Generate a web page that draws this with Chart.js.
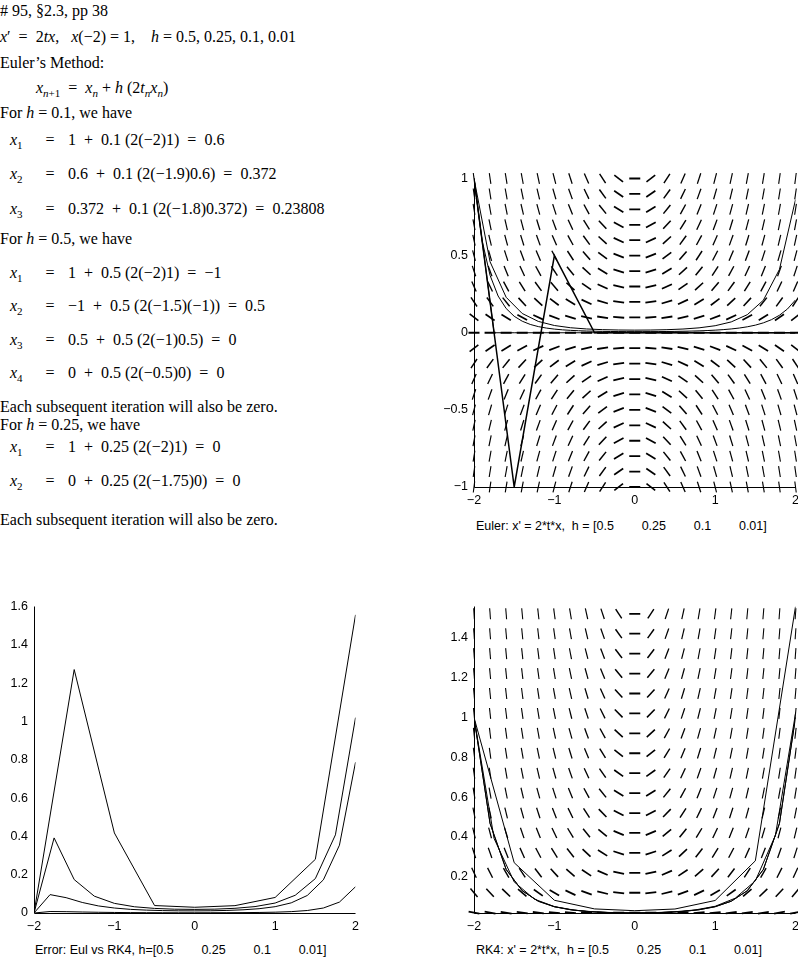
<!DOCTYPE html>
<html><head><meta charset="utf-8">
<script src="https://cdn.jsdelivr.net/npm/chart.js@4"></script>
<style>
body{margin:0;background:#fff;width:798px;height:961px;position:relative;overflow:hidden}
.t{position:absolute;font-family:"Liberation Serif",serif;font-size:16px;color:#000;white-space:nowrap;line-height:18px}
.t i{font-style:italic}
.cap{position:absolute;font-family:"Liberation Sans",Arial,sans-serif;font-size:12.5px;white-space:pre}
.box{position:absolute}
</style></head><body>
<div class="t" style="left:0;top:2px">#&nbsp;95, §2.3, pp 38</div>
<div class="t" style="left:0;top:28px"><i>x</i>′ &nbsp;= &nbsp;2<i>tx</i>, &nbsp;&nbsp;<i>x</i>(−2) = 1, &nbsp;&nbsp;&nbsp;<i>h</i> = 0.5, 0.25, 0.1, 0.01</div>
<div class="t" style="left:0;top:54px">Euler’s Method:</div>
<div class="t" style="left:36px;top:79px"><i>x</i><sub style="font-size:11px"><i>n</i>+1</sub> &nbsp;= &nbsp;<i>x<sub style="font-size:11px">n</sub></i> + <i>h</i> (2<i>t<sub style="font-size:11px">n</sub>x<sub style="font-size:11px">n</sub></i>)</div>
<div class="t" style="left:0;top:104px">For <i>h</i> = 0.1, we have</div>
<div id="txt"></div>
<div class="box" style="left:440px;top:165px;width:365px;height:346px"><canvas id="c1"></canvas></div>
<div class="box" style="left:0px;top:593px;width:365px;height:344px"><canvas id="c2"></canvas></div>
<div class="box" style="left:440px;top:593px;width:365px;height:344px"><canvas id="c3"></canvas></div>
<div class="cap" style="left:476px;top:519px">Euler: x' = 2*t*x,  h = [0.5        0.25        0.1        0.01]</div>
<div class="cap" style="left:35px;top:943px">Error: Eul vs RK4, h=[0.5        0.25        0.1        0.01]</div>
<div class="cap" style="left:476px;top:943px">RK4: x' = 2*t*x,  h = [0.5        0.25        0.1        0.01]</div>
<script>
const eqLines=[
 [131,'<i>x</i><sub>1</sub>','1 &nbsp;+ &nbsp;0.1 (2(−2)1) &nbsp;= &nbsp;0.6'],
 [165,'<i>x</i><sub>2</sub>','0.6 &nbsp;+ &nbsp;0.1 (2(−1.9)0.6) &nbsp;= &nbsp;0.372'],
 [200,'<i>x</i><sub>3</sub>','0.372 &nbsp;+ &nbsp;0.1 (2(−1.8)0.372) &nbsp;= &nbsp;0.23808'],
 [264,'<i>x</i><sub>1</sub>','1 &nbsp;+ &nbsp;0.5 (2(−2)1) &nbsp;= &nbsp;−1'],
 [297,'<i>x</i><sub>2</sub>','−1 &nbsp;+ &nbsp;0.5 (2(−1.5)(−1)) &nbsp;= &nbsp;0.5'],
 [331,'<i>x</i><sub>3</sub>','0.5 &nbsp;+ &nbsp;0.5 (2(−1)0.5) &nbsp;= &nbsp;0'],
 [364,'<i>x</i><sub>4</sub>','0 &nbsp;+ &nbsp;0.5 (2(−0.5)0) &nbsp;= &nbsp;0'],
 [438,'<i>x</i><sub>1</sub>','1 &nbsp;+ &nbsp;0.25 (2(−2)1) &nbsp;= &nbsp;0'],
 [472,'<i>x</i><sub>2</sub>','0 &nbsp;+ &nbsp;0.25 (2(−1.75)0) &nbsp;= &nbsp;0']];
const plain=[[230,'For <i>h</i> = 0.5, we have'],[398,'Each subsequent iteration will also be zero.'],[416,'For <i>h</i> = 0.25, we have'],[511,'Each subsequent iteration will also be zero.']];
let h='';
eqLines.forEach(([y,a,b])=>{h+=`<div class="t" style="left:10px;top:${y}px"><span style="display:inline-block;width:22px">${a.replace('<sub>','<sub style="font-size:11px">')}</span><span style="display:inline-block;width:36px;text-align:center">=</span>${b}</div>`;});
plain.forEach(([y,s])=>{h+=`<div class="t" style="left:0;top:${y}px">${s}</div>`;});
document.getElementById('txt').innerHTML=h;

// ---- data ----
const tE05=[-2,-1.5,-1,-0.5,0,0.5,1,1.5,2];
const xE05=[1,-1,0.5,0,0,0,0,0,0];
const tE025=[-2,-1.75,-1.5,-1.25,-1,-0.75,-0.5,-0.25,0,0.25,0.5,0.75,1,1.25,1.5,1.75,2];
const xE025=[1,0,0,0,0,0,0,0,0,0,0,0,0,0,0,0,0];
const tE01=[-2,-1.9,-1.8,-1.7,-1.6,-1.5,-1.4,-1.3,-1.2,-1.1,-1,-0.9,-0.8,-0.7,-0.6,-0.5,-0.4,-0.3,-0.2,-0.1,0,0.1,0.2,0.3,0.4,0.5,0.6,0.7,0.8,0.9,1,1.1,1.2,1.3,1.4,1.5,1.6,1.7,1.8,1.9,2];
const xE01=[1,0.6,0.372,0.23808,0.15713,0.10685,0.0748,0.05385,0.03985,0.03029,0.02362,0.0189,0.0155,0.01302,0.01119,0.00985,0.00887,0.00816,0.00767,0.00736,0.00721,0.00721,0.00736,0.00765,0.00811,0.00876,0.00964,0.0108,0.01231,0.01428,0.01685,0.02022,0.02467,0.03059,0.03854,0.04933,0.06413,0.08465,0.11343,0.15427,0.21289];
const t02=[-2,-1.8,-1.6,-1.4,-1.2,-1,-0.8,-0.6,-0.4,-0.2,0,0.2,0.4,0.6,0.8,1,1.2,1.4,1.6,1.8,2];
const xE001=[1,0.460,0.230,0.1248,0.0735,0.0470,0.0326,0.0246,0.0201,0.0178,0.0170,0.0177,0.0199,0.0242,0.0319,0.0455,0.0702,0.1170,0.2108,0.4107,0.863];
const xR05=[1,0.2708,0.08217,0.03884,0.02989,0.03837,0.08109,0.2801,1.5566];
const xR025=[1,0.392,0.1745,0.0880,0.0503,0.0325,0.0239,0.0199,0.0188,0.0201,0.0245,0.0335,0.0520,0.0925,0.1795,0.408,1.02];
const xR01=[1,0.4676,0.2368,0.1300,0.0773,0.0498,0.0347,0.0262,0.0215,0.0191,0.0183,0.0191,0.0215,0.0262,0.0347,0.0498,0.0773,0.1300,0.2369,0.4677,1.0];
const xR001=[1,0.4677,0.2369,0.1300,0.0773,0.0498,0.0347,0.0263,0.0215,0.0191,0.0183,0.0191,0.0215,0.0263,0.0347,0.0498,0.0773,0.1300,0.2369,0.4677,1.0];
const err05=[0,1.2708,0.4178,0.03884,0.02989,0.03837,0.08109,0.2801,1.5566];
const err025=[0,0.392,0.1745,0.0880,0.0503,0.0325,0.0239,0.0199,0.0188,0.0201,0.0245,0.0335,0.0520,0.0925,0.1795,0.408,1.02];
const err01=[0,0.096,0.080,0.055,0.037,0.026,0.019,0.015,0.0126,0.0114,0.0111,0.0117,0.0134,0.0167,0.0224,0.033,0.053,0.0915,0.173,0.354,0.787];
const err001=[0,0.0077,0.0069,0.0052,0.0038,0.0028,0.0021,0.0017,0.0014,0.0013,0.0013,0.0014,0.0016,0.0021,0.0028,0.0043,0.0071,0.013,0.026,0.057,0.137];
const fieldT=[-2,-1.8,-1.6,-1.4,-1.2,-1,-0.8,-0.6,-0.4,-0.2,0,0.2,0.4,0.6,0.8,1,1.2,1.4,1.6,1.8,2];
const fieldX1=[-1,-0.9,-0.8,-0.7,-0.6,-0.5,-0.4,-0.3,-0.2,-0.1,0,0.1,0.2,0.3,0.4,0.5,0.6,0.7,0.8,0.9,1];
const fieldX3=[0.02,0.12,0.22,0.32,0.42,0.52,0.62,0.72,0.82,0.92,1.02,1.12,1.22,1.32,1.42,1.52];
const xTicks=[-2,-1,0,1,2];

const pts=(ts,xs)=>ts.map((t,i)=>({x:t,y:xs[i]}));
const ds=(ts,xs,w)=>({data:pts(ts,xs),borderColor:'#000',borderWidth:w||1,pointRadius:0,fill:false,tension:0});
const fieldPlugin={id:'field',beforeDatasetsDraw(ch){
  const fx=ch.options.plugins.field; if(!fx||!fx.xs) return;
  const c=ch.ctx,X=ch.scales.x,Y=ch.scales.y,ar=ch.chartArea;
  c.save();c.beginPath();c.rect(ar.left-6,ar.top-6,ar.right-ar.left+12,ar.bottom-ar.top+12);c.clip();
  c.strokeStyle='#000';
  const sx=X.getPixelForValue(1)-X.getPixelForValue(0), sy=Y.getPixelForValue(1)-Y.getPixelForValue(0);
  fieldT.forEach(t=>fx.xs.forEach(x=>{
    const px=X.getPixelForValue(t),py=Y.getPixelForValue(x);
    let vx=sx*0.2, vy=sy*0.2*2*t*x; const n=Math.hypot(vx,vy);
    c.lineWidth=1+Math.abs(vx/n)*0.8;
    vx=vx/n*5.5; vy=vy/n*5.5;
    c.beginPath();c.moveTo(px-vx,py-vy);c.lineTo(px+vx,py+vy);c.stroke();
  }));
  c.restore();}};
const axisPlugin={id:'axl',afterDraw(ch){const c=ch.ctx,ar=ch.chartArea;c.save();c.strokeStyle='#000';c.lineWidth=1;
  c.beginPath();c.moveTo(ar.left+0.5,ar.top);c.lineTo(ar.left+0.5,ar.bottom+0.5);c.lineTo(ar.right,ar.bottom+0.5);c.stroke();c.restore();}};
const fmt=v=>String(v).replace('-','−');
function mk(id,datasets,ymin,ymax,yt,fieldXs){
  new Chart(document.getElementById(id),{type:'line',data:{datasets},plugins:[fieldPlugin,axisPlugin],
   options:{responsive:true,maintainAspectRatio:false,animation:false,
    layout:{padding:{top:10,right:0,left:0,bottom:0}},
    plugins:{legend:{display:false},tooltip:{enabled:false},field:{xs:fieldXs}},
    scales:{
     x:{type:'linear',min:-2,max:2,afterBuildTicks:s=>{s.ticks=xTicks.map(v=>({value:v}))},afterFit:s=>{s.height=24},
        grid:{display:false,drawTicks:false},border:{display:false},
        ticks:{color:'#000',font:{family:'Liberation Sans',size:12.5},padding:6,callback:fmt,maxRotation:0}},
     y:{type:'linear',min:ymin,max:ymax,afterBuildTicks:s=>{s.ticks=yt.map(v=>({value:v}))},afterFit:s=>{s.width=34},
        grid:{display:false,drawTicks:false},border:{display:false},
        ticks:{color:'#000',font:{family:'Liberation Sans',size:12.5},padding:6,callback:fmt}}}}});
}
mk('c1',[ds(tE05,xE05,1.5),ds(tE025,xE025,1),ds(tE01,xE01,1),ds(t02,xE001,1)],-1,1,[-1,-0.5,0,0.5,1],fieldX1);
mk('c2',[ds(tE05,err05,1),ds(tE025,err025,1),ds(t02,err01,1),ds(t02,err001,1)],0,1.6,[0,0.2,0.4,0.6,0.8,1,1.2,1.4,1.6],null);
mk('c3',[ds(tE05,xR05,1),ds(tE025,xR025,1),ds(t02,xR01,1),ds(t02,xR001,1)],0.0183,1.5566,[0.2,0.4,0.6,0.8,1,1.2,1.4],fieldX3);
</script></body></html>
